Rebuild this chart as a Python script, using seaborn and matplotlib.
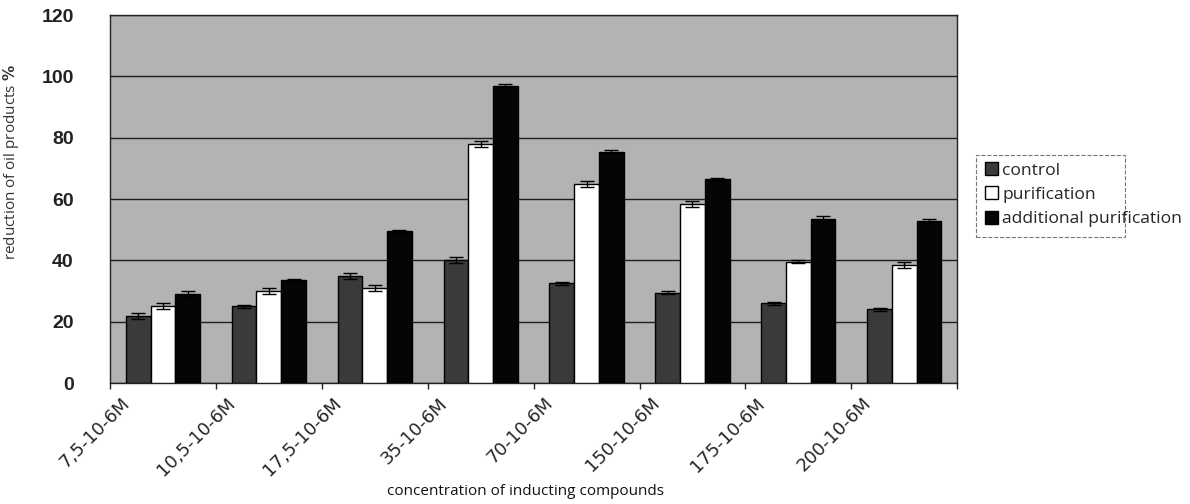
import numpy as np
import pandas as pd
import matplotlib
matplotlib.use("Agg")
import matplotlib.pyplot as plt
from matplotlib.patches import Patch, Rectangle
import seaborn as sns

# dane
concentrations = ["7,5-10-6M", "10,5-10-6M", "17,5-10-6M", "35-10-6M",
                  "70-10-6M", "150-10-6M", "175-10-6M", "200-10-6M"]
series = ["control", "purification", "additional purification"]
control = [22, 25, 35, 40, 32.5, 29.5, 26, 24]
purification = [25, 30, 31, 78, 65, 58.5, 39.5, 38.5]
additional = [29, 33.5, 49.5, 97, 75.5, 66.5, 53.5, 53]
err_control = [1.0, 0.5, 1.0, 1.0, 0.5, 0.5, 0.5, 0.5]
err_purification = [1.0, 1.0, 1.0, 1.0, 1.0, 1.0, 0.5, 1.0]
err_additional = [1.0, 0.5, 0.5, 0.5, 0.5, 0.5, 1.0, 0.5]

df = pd.DataFrame({
    "conc": concentrations * 3,
    "group": [s for s in series for _ in concentrations],
    "value": control + purification + additional,
    "err": err_control + err_purification + err_additional,
})

sns.set_theme(style="white")
plt.rcParams["font.family"] = ["Liberation Sans", "DejaVu Sans"]

fig = plt.figure(figsize=(11.9, 5.04), dpi=100)
ax = fig.add_axes([0.0924, 0.240, 0.712, 0.730])
ax.set_facecolor("#b3b3b3")

palette = {"control": "#3a3a3a", "purification": "#ffffff",
           "additional purification": "#050505"}
sns.barplot(data=df, x="conc", y="value", hue="group", palette=palette,
            order=concentrations, hue_order=series, width=0.7, errorbar=None,
            edgecolor="black", linewidth=1.0, saturation=1, ax=ax, zorder=3)

# slupki bledow na podstawie pozycji slupkow
for container, s in zip(ax.containers, series):
    sub = df[df["group"] == s].set_index("conc").loc[concentrations]
    xs = [p.get_x() + p.get_width() / 2 for p in container.patches]
    ax.errorbar(xs, sub["value"], yerr=sub["err"], fmt="none", ecolor="black",
                elinewidth=1.0, capsize=5, capthick=1.0, zorder=4)

ax.set_ylim(0, 120)
ax.set_xlim(-0.5, len(concentrations) - 0.5)
ax.set_yticks(np.arange(0, 121, 20))
ax.yaxis.grid(True, color="#1e1e1e", linewidth=1.0, zorder=1)
ax.set_axisbelow(True)
for side in ["left", "top", "right", "bottom"]:
    ax.spines[side].set_color("#222222")
    ax.spines[side].set_linewidth(1.0)

ax.tick_params(axis="y", labelsize=14, pad=20, left=False)
for lbl in ax.get_yticklabels():
    lbl.set_fontweight("bold")
    lbl.set_color("#222222")

# etykiety osi x przesuniete w lewo, kreski na granicach grup
pos = np.arange(len(concentrations))
ax.set_xticks(pos - 0.4)
ax.set_xticklabels(concentrations, rotation=45, ha="right",
                   rotation_mode="anchor", fontsize=13,
                   family=["Liberation Sans Narrow", "DejaVu Sans"])
ax.set_xticks(np.arange(len(concentrations) + 1) - 0.5, minor=True)
ax.tick_params(axis="x", which="major", length=0, pad=8)
ax.tick_params(axis="x", which="minor", length=4, color="#222222", bottom=True)

ax.set_xlabel("concentration of inducting compounds", fontsize=11,
              family=["Open Sans", "DejaVu Sans"], color="#111111")
ax.xaxis.set_label_coords(0.49, -0.275)
ax.set_ylabel("reduction of oil products $\\mathbf{\\%}$", fontsize=11,
              family=["Open Sans", "DejaVu Sans"], color="#333333")
ax.yaxis.set_label_coords(-0.105, 0.6)

handles = [Patch(facecolor=palette[s], edgecolor="black", label=s) for s in series]
ax.get_legend().remove()
leg = fig.legend(handles=handles, loc="upper left",
                 bbox_to_anchor=(0.826, 0.682), frameon=False,
                 prop={"family": ["Open Sans", "DejaVu Sans"], "size": 12.6},
                 handlelength=0.75, handleheight=0.75, handletextpad=0.25,
                 labelspacing=0.45, borderpad=0.1, borderaxespad=0)

# przerywana ramka legendy (tekst wychodzi poza nia jak w oryginale)
fig.patches.append(Rectangle((0.820, 0.530), 0.125, 0.163,
                             transform=fig.transFigure, fill=False,
                             edgecolor="#777777", linestyle="--",
                             linewidth=0.8))

fig.savefig("out.png", dpi=100)
